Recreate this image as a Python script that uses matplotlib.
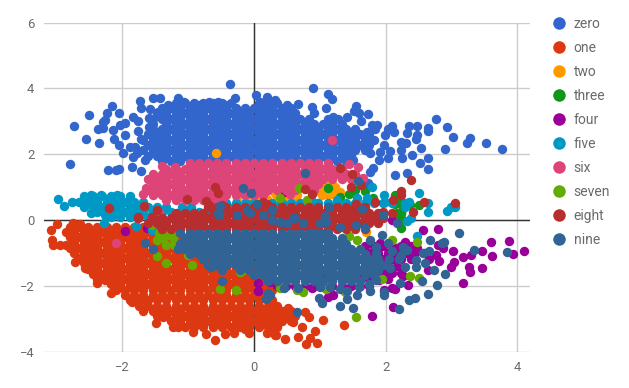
import matplotlib
matplotlib.use("Agg")
import matplotlib.pyplot as plt
from matplotlib.lines import Line2D

names = ["zero", "one", "two", "three", "four", "five", "six", "seven", "eight", "nine"]
colors = ["#3366cc", "#dc3912", "#ff9900", "#109618", "#990099", "#0099c6", "#dd4477", "#66aa00", "#b82e2e", "#316395"]
xticks = [-2, 0, 2, 4]
yticks = [-4, -2, 0, 2, 4, 6]

# Rows: (y, [x values read along that height]); points: individual (x, y) readings.
zero_rows = [
 (1.8,[-1.4,-1.26,-1.12,-.98,-.84,-.7,-.56,-.42,-.28,-.14,0,.14,.28,.42,.56,.7,.84,.98,1.12,1.26,1.4]),
 (1.96,[-1.61,-1.47,-1.33,-1.19,-1.05,-.91,-.77,-.63,-.49,-.35,-.21,-.07,.07,.21,.35,.49,.63,.77,.91,1.05,1.19,1.33,1.47]),
 (2.12,[-1.68,-1.54,-1.4,-1.26,-1.12,-.98,-.84,-.7,-.56,-.42,-.28,-.14,0,.14,.28,.42,.56,.7,.84,.98,1.12,1.26,1.4,1.54,1.68]),
 (2.28,[-1.61,-1.47,-1.33,-1.19,-1.05,-.91,-.77,-.63,-.49,-.35,-.21,-.07,.07,.21,.35,.49,.63,.77,.91,1.05,1.19,1.33,1.47,1.61,1.75]),
 (2.44,[-1.68,-1.54,-1.4,-1.26,-1.12,-.98,-.84,-.7,-.56,-.42,-.28,-.14,0,.14,.28,.42,.56,.7,.84,.98,1.12,1.26,1.4,1.54,1.68,1.82]),
 (2.6,[-1.61,-1.47,-1.33,-1.19,-1.05,-.91,-.77,-.63,-.49,-.35,-.21,-.07,.07,.21,.35,.49,.63,.77,.91,1.05,1.19,1.33,1.47,1.61,1.75]),
 (2.76,[-1.54,-1.4,-1.26,-1.12,-.98,-.84,-.7,-.56,-.42,-.28,-.14,0,.14,.28,.42,.56,.7,.84,.98,1.12,1.26,1.4,1.54]),
 (2.92,[-1.54,-1.33,-1.19,-1.05,-.91,-.77,-.63,-.49,-.35,-.21,-.07,.07,.21,.35,.49,.63,.77,.91,1.05,1.19,1.33]),
 (3.08,[-1.54,-1.4,-1.26,-1.12,-.98,-.84,-.7,-.56,-.42,-.28,-.14,0,.14,.28,.42,.56,.7,.84,1.12]),
 (3.24,[-1.47,-1.33,-1.19,-1.05,-.91,-.77,-.63,-.49,-.35,-.21,-.07,.07,.21,.35,.49,.63,.91]),
 (3.4,[-1.4,-1.26,-1.12,-.98,-.84,-.7,-.56,-.42,-.28,-.14,0,.14,.28,.42,.56]),
 (3.56,[-1.19,-1.05,-.91,-.77,-.63,-.49,-.35,.07,.21,.35]),
]
zero_points = [(-.36,4.12),(-2.73,2.85),(-2.51,3.2),(-2.56,2.47),(-2.35,2.34),(-2.8,1.71),(-2.22,1.52),(-2.1,1.52),(-2.05,1.54),(-1.85,1.61),(-1.71,1.49),(-2.16,3.47),(-2.05,3.24),(-2.23,3.24),(-2.26,3.04),(-2.3,2.99),(-2.37,2.76),(-2.29,2.79),(-2.14,2.73),(-1.96,2.94),(-2.04,2.89),(-1.84,3.14),(-1.77,3.02),(-1.77,2.72),(-1.96,2.58),(-2.13,2.46),(-2.05,2.28),(-1.99,2.05),(-1.88,2.23),(-1.81,2.23),(-1.71,2.45),(-1.84,1.9),(-1.78,2.03),(-1.66,1.82),(-1.73,3.62),(-1.71,3.41),(-1.53,3.71),(-1.43,3.71),(-1.58,3.37),(-1.46,3.29),(-1.6,3.09),(-1.6,2.82),(-1.15,3.71),(-1.07,3.58),(-1.3,3.5),(-.92,3.46),(-.83,3.5),(-.69,3.58),(-.54,3.6),(-.44,3.5),(-.29,3.72),(.03,3.8),(.19,3.73),(.09,3.58),(.32,3.65),
 (.89,4.0),(1.13,3.82),(1.18,3.67),(1.09,3.39),(.88,3.44),(.67,3.53),(.5,3.5),(1.55,3.47),(1.52,3.32),(1.59,3.24),(1.74,3.23),(1.62,3.02),(1.2,3.14),(1.41,3.12),(1.28,3.06),(1.79,2.89),(1.87,2.89),(1.84,2.76),(1.71,2.68),(2.1,2.86),(2.04,2.76),(1.99,2.58),(2.13,2.66),(2.36,2.86),(2.48,2.86),(2.32,2.63),(2.65,2.79),(2.65,2.69),(2.48,2.57),(2.46,2.45),(2.77,3.06),(2.94,2.84),(3.02,2.53),(3.28,2.5),(3.24,2.33),(3.52,2.34),(3.77,2.17),(2.91,2.16),(2.54,2.2),(2.23,2.38),(2.31,2.33),(2.24,2.13),(1.98,2.28),(1.91,2.07),(2.06,2.1),(2.03,1.87),(1.9,1.82),(2.25,1.87),(2.4,1.98),(2.64,1.88),(2.53,1.72),(2.65,1.55),(2.33,1.43),(2.14,1.37),(1.81,1.57),(1.76,1.47),(1.74,1.13),(1.51,1.82),(1.76,2.03)]

one_rows = [
 (-.2,[-2.8,-2.66,-2.52,-2.38,-2.24,-2.1,-1.96,-1.82,-1.68,-1.54]),
 (-.36,[-2.73,-2.59,-2.45,-2.31,-2.17,-2.03,-1.89,-1.75,-1.61,-1.47,-1.33]),
 (-.52,[-2.8,-2.66,-2.52,-2.38,-2.24,-2.1,-1.96,-1.82,-1.68,-1.54,-1.4,-1.26,-1.12]),
 (-.68,[-2.73,-2.59,-2.45,-2.31,-2.17,-2.03,-1.89,-1.75,-1.61,-1.47,-1.33,-1.19,-1.05,-.91]),
 (-.84,[-2.8,-2.66,-2.52,-2.38,-2.24,-2.1,-1.96,-1.82,-1.68,-1.54,-1.4,-1.26,-1.12,-.98,-.84,-.7]),
 (-1.0,[-2.73,-2.59,-2.45,-2.31,-2.17,-2.03,-1.89,-1.75,-1.61,-1.47,-1.33,-1.19,-1.05,-.91,-.77,-.63,-.49]),
 (-1.16,[-2.66,-2.52,-2.38,-2.24,-2.1,-1.96,-1.82,-1.68,-1.54,-1.4,-1.26,-1.12,-.98,-.84,-.7,-.56,-.42,-.28,-.14]),
 (-1.32,[-2.59,-2.45,-2.31,-2.17,-2.03,-1.89,-1.75,-1.61,-1.47,-1.33,-1.19,-1.05,-.91,-.77,-.63,-.49,-.35,-.21,-.07]),
 (-1.48,[-2.52,-2.38,-2.24,-2.1,-1.96,-1.82,-1.68,-1.54,-1.4,-1.26,-1.12,-.98,-.84,-.7,-.56,-.42,-.28,-.14,0]),
 (-1.64,[-2.45,-2.31,-2.17,-2.03,-1.89,-1.75,-1.61,-1.47,-1.33,-1.19,-1.05,-.91,-.77,-.63,-.49,-.35,-.21,-.07,.07,.21]),
 (-1.8,[-2.38,-2.24,-2.1,-1.96,-1.82,-1.68,-1.54,-1.4,-1.26,-1.12,-.98,-.84,-.7,-.56,-.42,-.28,-.14,0,.14,.28]),
 (-1.96,[-2.17,-2.03,-1.89,-1.75,-1.61,-1.47,-1.33,-1.19,-1.05,-.91,-.77,-.63,-.49,-.35,-.21,-.07,.07,.21,.35]),
 (-2.12,[-2.1,-1.96,-1.82,-1.68,-1.54,-1.4,-1.26,-1.12,-.98,-.84,-.7,-.56,-.42,-.28,-.14,0,.14,.28]),
 (-2.28,[-1.96,-1.82,-1.68,-1.54,-1.4,-1.26,-1.12,-.98,-.84,-.7,-.56,-.42,-.28,-.14,0,.14,.21]),
 (-2.44,[-1.89,-1.75,-1.61,-1.47,-1.33,-1.19,-1.05,-.91,-.77,-.63,-.49,-.35,-.21,-.07,.07,.21,.28]),
 (-2.6,[-1.75,-1.61,-1.47,-1.33,-1.19,-1.05,-.91,-.77,-.63,-.49,-.35,-.21,-.07,.07,.21,.35]),
 (-2.76,[-1.68,-1.54,-1.4,-1.26,-1.12,-.98,-.84,-.7,-.56,-.42,-.28,-.14,0,.14,.28,.42,.56]),
 (-2.92,[-1.47,-1.33,-1.19,-1.05,-.91,-.77,-.63,-.49,-.35,-.21,-.07,.07,.21,.35,.49,.63]),
 (-3.08,[-1.26,-1.12,-.98,-.84,-.7,-.56,-.42,-.28,-.14,0,.14,.28,.42,.56]),
 (-3.24,[-1.05,-.91,-.77,-.63,-.49,-.35,-.21,-.07,.07,.21,.35]),
]
one_points = [(-3.09,-.3),(-3.0,-.13),(-2.75,-.1),(-2.64,-.13),(-3.07,-.61),(-3.05,-.76),(-2.95,-.76),(-2.86,-.76),(-2.86,-.35),(-2.72,-1.27),(-2.57,-1.47),(-2.39,-1.55),(-2.39,-1.9),(-2.26,-1.82),(-2.18,-2.23),(-2.06,-2.08),(-1.86,-2.48),(-1.66,-2.43),(-1.49,-3.12),(-1.38,-2.94),(-1.23,-3.24),(-1.15,-3.24),(-.92,-3.39),(-.73,-3.45),(-.6,-3.65),(-.44,-3.47),(-.31,-3.44),(-.14,-3.32),(-.08,-3.44),(.09,-3.04),(.19,-3.44),(.32,-3.5),(.29,-2.74),(.52,-2.68),(.77,-2.79),(.83,-2.96),(1.05,-3.04),(.73,-3.24),(.92,-3.36),(1.37,-3.18),(.85,-3.6),(.95,-3.75),(.79,-3.78),(.67,-3.55),(.47,-3.62),(.34,-3.5),(.6,-3.09),(.45,-2.94),(.37,-3.14),(.27,-3.24),(.29,-2.94)]

two_rows = []
two_points = [(-.58,2.03),(1.0,.86),(1.1,1.06),(1.23,1.01),(1.31,.86),(1.13,.76),(1.23,.76),(1.03,.76),(1.18,1.1),(1.05,.96),(1.2,.9),(.34,.76),(.5,.66),(.65,.76),(.32,.86),(.6,.66),(.42,.7),(-.26,.66),(-.11,.66),(.09,.71),(.32,.81),(-.05,.6),(.2,.65),(1.7,-.35)]

three_rows = []
three_points = [(1.13,.96),(1.44,.79),(1.69,.88),(1.54,.91),(2.24,.56),(2.14,.76),(2.5,.46),(2.24,.2),(2.37,.46),(1.81,.66),(1.3,.7),(2.27,.35),(2.15,.5),(2.17,.2),(2.24,.05),(2.24,-.25),(2.24,.2),(2.24,0),(-.11,.5),(-.2,.35)]

four_rows = [
 (-.8,[1.68,1.82,1.96,2.1,2.24,2.38]),
 (-1.0,[1.75,1.89,2.03,2.17,2.31,2.45,2.59]),
 (-1.2,[1.68,1.82,1.96,2.1,2.24,2.38]),
 (-1.4,[1.75,1.89,2.03,2.17]),
 (-1.6,[1.68,1.82,1.96,2.1,2.24]),
 (-1.8,[1.05,1.19,1.33,1.47,1.61,1.75,1.89,2.03]),
 (-2.0,[.35,.49,.63,.77,.91,1.05,1.19,1.33,1.47,1.61,1.75]),
]
four_points = [(2.57,-.3),(2.79,-.26),(2.3,-.68),(3.6,-.67),(3.87,-.63),(4.1,-.93),(3.94,-1.04),(3.47,-.94),(3.61,-1.08),(3.3,-1.07),(3.18,-1.12),(3.02,-.95),(2.87,-.86),(2.79,-.76),(2.77,-1.06),(2.81,-1.24),(3.04,-1.29),(3.0,-1.42),(3.27,-1.44),(3.29,-1.57),(3.46,-1.46),(3.17,-1.93),(2.66,-1.2),(2.65,-1.52),(2.27,-1.69),(2.34,-1.98),(2.09,-2.06),(2.15,-2.09),(2.12,-2.63),(1.79,-2.92),(1.13,-2.35),(1.2,-2.28),(.88,-2.08),(1.97,-2.13),(1.91,-.71),(2.17,-.86),(2.47,-.86),(1.9,-1.82),(-1.96,-.32),(-1.63,-.25),(.06,-1.93),(.06,-2.16),(.24,-1.87),(-1.38,-.15),(.47,.86),(2.1,.0),(-1.4,.05)]

five_rows = [
 (.72,[-2.59,-2.45,-2.31,-2.17,-2.03,-1.89]),
 (.56,[-2.66,-2.52,-2.38,-2.24,-2.1,-1.96,-1.82,-1.68]),
 (.4,[-2.59,-2.45,-2.31,-2.17,-2.03,-1.89,-1.75,-1.61,-1.47,-1.33,-1.1,-.95]),
 (.24,[-2.38,-2.24,-2.1,-1.96,-1.82,-1.68,-1.54,-1.4,-1.26,-1.12,-.98,-.84,-.65,-.5]),
 (.08,[-2.17,-2.03,-1.89,-1.75,-1.61,-1.47]),
 (.52,[-.56,-.42,-.28,-.14,0,.14,.28,.42,.56,.7,.84,.98,1.12,1.26,1.4,1.54,1.68,1.82,1.96,2.1,2.3]),
]
five_points = [(-2.98,.63),(-2.89,.42),(-2.77,.56),(-2.48,.76),(-2.33,.76),(-2.08,.76),(-2.26,.15),(-2.28,-.1),(-1.8,-.18),(-2.47,.2),(-1.88,.1),(-1.55,-.3),(1.79,1.01),(2.5,.83),(2.65,.51),(2.64,.25),(2.94,.28),(3,.4),(3.06,.38),(1.97,.76),(1.99,.56),(2.32,.51),(2.36,.56),(2.3,.4),(1.71,.66),(1.56,.66),(1.41,.46),(1.26,.61),(.9,.56),(.7,.4),(.4,.45),(2.48,-.5),(2.32,-.03),(2.38,.05),(-.5,.55),(-.3,.4),(.0,.5)]

six_rows = [
 (1.72,[-.98,-.84,-.7,-.56,-.42,-.28,-.14,0,.14,.28,.42,.56,.7,.84,.98,1.12]),
 (1.56,[-1.33,-1.19,-1.05,-.91,-.77,-.63,-.49,-.35,-.21,-.07,.07,.21,.35,.49,.63,.77,.91,1.05,1.19,1.33]),
 (1.4,[-1.54,-1.4,-1.26,-1.12,-.98,-.84,-.7,-.56,-.42,-.28,-.14,0,.14,.28,.42,.56,.7,.84,.98,1.12,1.26,1.4,1.54]),
 (1.24,[-1.61,-1.47,-1.33,-1.19,-1.05,-.91,-.77,-.63,-.49,-.35,-.21,-.07,.07,.21,.35,.49,.63,.77,.91,1.05,1.19,1.33,1.47,1.61]),
 (1.08,[-1.54,-1.4,-1.26,-1.12,-.98,-.84,-.7,-.56,-.42,-.28,-.14,0,.14,.28,.42,.56,.7,.84,.98]),
 (.92,[-1.61,-1.47,-1.33,-1.19,-1.05,-.91,-.77,-.63,-.49,-.35,-.21,-.07,.07,.21,.35,.49,.63,.91]),
 (.76,[-1.54,-1.4,-1.26,-1.12,-.98,-.84,-.7,-.56,-.42,-.28,-.14,0,.14]),
 (.6,[-1.33,-1.19,-1.05,-.91,-.77,-.63,-.49]),
]
six_points = [(1.18,2.43),(-2.09,-.69),(-1.68,.79),(-1.64,.96),(-1.4,1.65),(-1.2,1.6),(.55,.78),(-1.45,.25),(1.45,1.7),(1.58,1.62),(1.65,1.27)]

seven_rows = []
seven_points = [(-1.33,-1.32),(-1.47,-1.09),(-.94,-1.37),(-.51,-2.11),(-.27,-2.13),(-.21,-1.57),(-1.55,-.15),(-1.48,-.6),(-1.38,-.56),(-1.28,-.3),(-1.23,-.56),(-1.33,-.76),(-1.22,-.76),(-1.15,-.4),(-1.45,-.4),(-1.3,-.45),(-1,-1.06),(-.77,-1.1),(-.52,-1.32),(-.16,-1.52),(.4,-2.08),(1.55,-2.94),(2.48,-.66),(2.37,-1.69),(2.51,-1.75),(2.09,-.61),(.75,-2.18),(.65,-2.13),(1.38,-2.18),(1.94,-1.8),(1.56,-.61),(1.44,-.5),(.69,.96),(.4,.66),(.8,.61),(1.1,-2.1)]

eight_rows = [
 (.38,[-.7,-.56,-.42,-.28,-.14,0,.14,.28,.42,.56,.7,.84,.98,1.12,1.26,1.4,1.54,1.68]),
 (.22,[-1.19,-1.05,-.91,-.77,-.63,-.49,-.35,-.21,-.07,.07,.21,.35,.49,.63,.77,.91,1.05,1.19,1.33,1.47,1.61,1.75,1.89]),
 (.06,[-1.54,-1.4,-1.26,-1.12,-.98,-.84,-.7,-.56,-.42,-.28,-.14,0,.14,.28,.42,.56,.7,.84,.98,1.12,1.26,1.4,1.54,1.68,1.82,1.96]),
 (-.1,[-1.61,-1.47,-1.33,-1.19,-1.05,-.91,-.77,-.63,-.49,-.35,-.21,-.07,.07,.21,.35,.49,.63,.77,.91,1.05,1.19,1.33,1.47,1.61,1.75,1.89]),
 (-.26,[-1.4,-1.26,-1.12,-.98,-.84,-.7,-.56,-.42,-.28,-.14,0,.14,.28,.42,.56,.7,.84,.98,1.12,1.26,1.4,1.54,1.68]),
]
eight_points = [(-1.77,.08),(-1.48,.3),(-1.02,.63),(-2.21,.37),(-1.67,.42),(-.59,1.01),(-.54,.83),(-.73,.58),(-.69,.45),(-.49,.45),(.14,.56),(.19,.5),(-1.76,.05),(-1.55,.1),(-1.43,-.15),(1.31,1.59),(1.49,1.4),(1.47,1.01),(.78,.94),(.88,.79),(1.62,1.06),(2.39,1.21),(2.23,.89),(2.23,.76),(2.11,.61),(1.84,.56),(2.58,.55),(3.06,.51),(2.41,.25),(2.09,.2),(1.96,.25),(1.55,.5)]

nine_rows = [
 (-.4,[-1.12,-.98,-.84,-.7,-.56,-.42,-.28,-.14,0,.14,.28,.42,.56,.7,.84,.98,1.12]),
 (-.56,[-1.05,-.91,-.77,-.63,-.49,-.35,-.21,-.07,.07,.21,.35,.49,.63,.77,.91,1.05,1.19,1.33]),
 (-.72,[-1.12,-.98,-.84,-.7,-.56,-.42,-.28,-.14,0,.14,.28,.42,.56,.7,.84,.98,1.12,1.26,1.4]),
 (-.88,[-1.05,-.91,-.77,-.63,-.49,-.35,-.21,-.07,.07,.21,.35,.49,.63,.77,.91,1.05,1.19,1.33,1.47,1.61]),
 (-1.04,[-.98,-.84,-.7,-.56,-.42,-.28,-.14,0,.14,.28,.42,.56,.7,.84,.98,1.12,1.26,1.4,1.54,1.68]),
 (-1.2,[-.77,-.63,-.49,-.35,-.21,-.07,.07,.21,.35,.49,.63,.77,.91,1.05,1.19,1.33,1.47,1.61,1.75,1.89]),
 (-1.36,[-.7,-.56,-.42,-.28,-.14,0,.14,.28,.42,.56,.7,.84,.98,1.12,1.26,1.4,1.54,1.68,1.82,1.96]),
 (-1.52,[-.21,-.07,.07,.21,.35,.49,.63,.77,.91,1.05,1.19,1.33,1.47,1.61,1.75,1.89]),
 (-1.68,[0,.14,.28,.42,.56,.7,.84,.98,1.12,1.26,1.4,1.54,1.68,1.82]),
 (-1.84,[.21,.35,.49,.63,.77,.91,1.05,1.19,1.33,1.47,1.61]),
]
nine_points = [(-1.65,-.69),(-1.53,-.89),(-1.16,-.89),(-.65,-1.44),(-.49,-1.52),(-.49,-1.85),(.22,-2.23),(.18,-2.4),(-.53,.15),(-.26,.15),(-.11,.3),(-.06,.2),(.14,.15),(.27,.3),(.04,.5),(-.16,.96),(-.05,.83),(-.54,.2),(-.52,.42),(.77,1.42),(1.58,1.18),(1.14,.41),(1.08,.13),(1.64,.33),(1.96,.15),(.6,.05),
 (3.12,-.39),(3.84,-.96),(3.34,-.91),(2.88,-.66),(2.85,-.69),(2.67,-.61),(2.66,-.93),(2.57,-1.01),(2.46,-1.22),(2.6,-1.3),(2.46,-1.44),(2.73,-1.52),(2.9,-1.64),(2.78,-1.97),(2.55,-1.86),(2.64,-2.26),(2.45,-2.38),(2.36,-2.43),(2.22,-1.9),(2.21,-2.7),(1.97,-2.18),(1.97,-2.28),(1.76,-2.16),(1.57,-2.28),(1.42,-2.16),(1.42,-2.4),(1.5,-2.66),(1.31,-2.61),(1.04,-2.51),(.99,-2.38),(.65,-2.79),(.24,-2.28),(.45,-2.08),(.67,-2.08),(1.95,-.46),(1.76,-.61),(2.04,-.71),(2.18,-.1),(1.68,-.25),(1.55,-.15),(1.31,-.2),(1.08,.1),(1.1,-.05),(1.0,-.1),(.75,-.1),(.62,.05),(.5,-.1),(.4,-.05),(.27,0),(1.08,-.4),(.9,-.4),(1.86,-.81),(1.86,-1.01),(2.27,-.81),(2.32,-.91),(2.24,-1.06),(2.3,-1.42),(2.07,-1.47),(2.1,-.95),(2.05,-1.2),(2.2,-1.2),(1.0,-2.05),(1.15,-2.05),(1.3,-2.1),(1.6,-2.05),(1.75,-1.95),(1.85,-1.82)]

series = [(zero_rows, zero_points), (one_rows, one_points), (two_rows, two_points), (three_rows, three_points),
          (four_rows, four_points), (five_rows, five_points), (six_rows, six_points), (seven_rows, seven_points),
          (eight_rows, eight_points), (nine_rows, nine_points)]

W, H = 629, 388
L, R, T, B = 44, 530, 22.6, 351.6
fig = plt.figure(figsize=(W / 100, H / 100), dpi=100)
ax = fig.add_axes([L / W, 1 - B / H, (R - L) / W, (B - T) / H])
ax.set_xlim((L - 254) / 65.8, (R - 254) / 65.8)
ax.set_ylim(-4, 6)
for s in ax.spines.values():
    s.set_visible(False)
ax.set_xticks(xticks)
ax.set_yticks(yticks)
ax.grid(True, color="#cccccc", linewidth=1)
ax.set_axisbelow(True)
ax.tick_params(length=0, labelcolor="#6a6a6a", labelsize=9.4, pad=7)
for lab in ax.get_xticklabels() + ax.get_yticklabels():
    lab.set_fontfamily("Roboto")
ax.axhline(0, color="#333333", linewidth=1, zorder=1)
ax.axvline(0, color="#333333", linewidth=1, zorder=1)

for i, (rows, points) in enumerate(series):
    xs = [x for y, row in rows for x in row] + [p[0] for p in points]
    ys = [y for y, row in rows for x in row] + [p[1] for p in points]
    ax.scatter(xs, ys, s=46, color=colors[i], linewidths=0, zorder=3 + i, clip_on=False)

handles = [Line2D([], [], linestyle="none", marker="o", markersize=9, markeredgewidth=0, color=c) for c in colors]
fig.legend(handles, names, loc="upper left", bbox_to_anchor=(552 / W, 1 - 17 / H), bbox_transform=fig.transFigure,
           frameon=False, labelcolor="#6a6a6a", prop={"family": "Roboto", "size": 10},
           handlelength=1.0, handletextpad=0.55, labelspacing=0.72, borderpad=0, borderaxespad=0)
fig.savefig("out.png", dpi=100)
